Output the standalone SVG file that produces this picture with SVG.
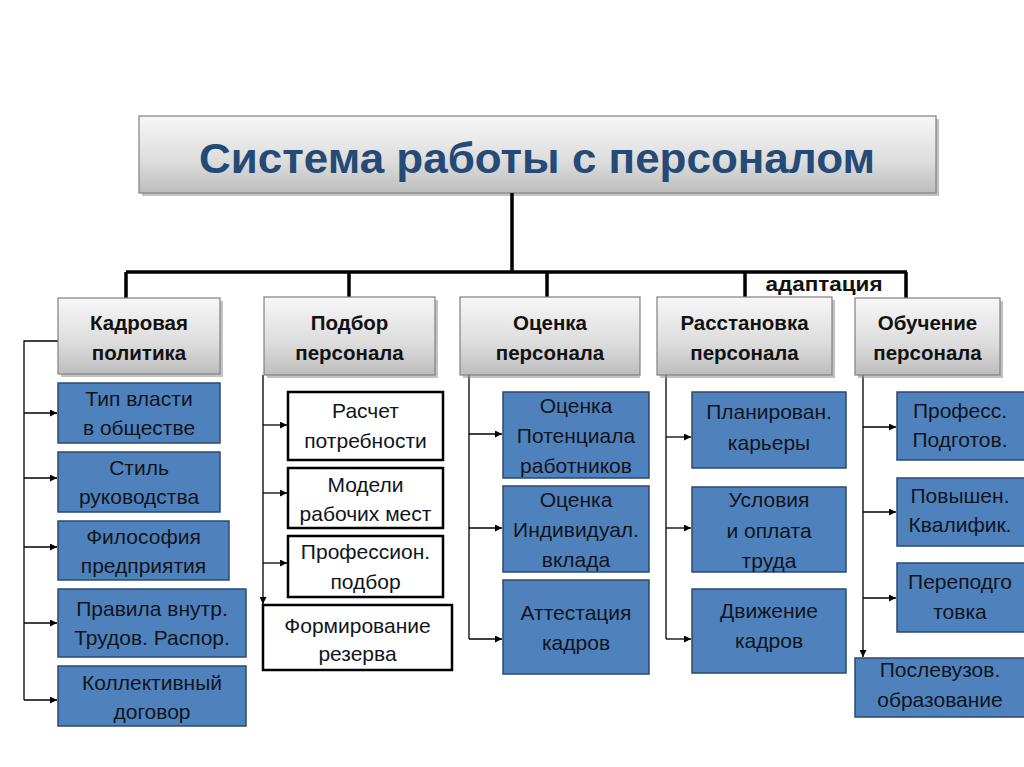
<svg xmlns="http://www.w3.org/2000/svg" width="1024" height="767" viewBox="0 0 1024 767">
<defs>
<linearGradient id="gray" x1="0" y1="0" x2="0" y2="1">
<stop offset="0" stop-color="#f7f7f7"/>
<stop offset="0.6" stop-color="#dcdcdc"/>
<stop offset="1" stop-color="#bdbdbd"/>
</linearGradient>
<marker id="ar" viewBox="0 0 10 10" refX="10" refY="5" markerWidth="7" markerHeight="7" markerUnits="userSpaceOnUse" orient="auto">
<path d="M0,0 L10,5 L0,10 z" fill="#000"/>
</marker>
</defs>
<style>
.hdr{fill:url(#gray);stroke:#808080;stroke-width:1.2}
.shd{fill:#9a9a9a;opacity:0.6}
.blue{fill:#4f81bd;stroke:#2a4a70;stroke-width:1.5}
.white{fill:#fff;stroke:#000;stroke-width:2.5}
.ht{font-family:"Liberation Sans",Arial,sans-serif;font-weight:bold;font-size:20.5px;fill:#111;text-anchor:middle}
.bt{font-family:"Liberation Sans",Arial,sans-serif;font-size:21px;fill:#10151c;text-anchor:middle}
.thick{stroke:#000;stroke-width:3.5;fill:none}
.thin{stroke:#000;stroke-width:1.3;fill:none}
.arr{stroke:#000;stroke-width:1.3;fill:none;marker-end:url(#ar)}
</style>
<rect width="1024" height="767" fill="#fff"/>

<g id="title">
<rect class="shd" x="142" y="119" width="797" height="77"/>
<rect class="hdr" x="139" y="116" width="797" height="77"/>
<text x="537" y="173" font-family="'Liberation Sans',Arial,sans-serif" font-weight="bold" font-size="42" fill="#244a75" text-anchor="middle" textLength="676" lengthAdjust="spacingAndGlyphs">Система работы с персоналом</text>
</g>

<g id="connectors">
<path class="thick" d="M512,193 V272 M126,272 H907 M126,272 V298 M349,272 V297 M547,272 V297 M745,272 V297 M906,272 V298"/>
<path class="thin" d="M58,341 H24 V700"/>
<path class="arr" d="M24,413 H57"/>
<path class="arr" d="M24,478 H57"/>
<path class="arr" d="M24,547 H57"/>
<path class="arr" d="M24,623 H57"/>
<path class="arr" d="M24,700 H57"/>
<path class="arr" d="M263,375 V604"/>
<path class="arr" d="M263,425 H287"/>
<path class="arr" d="M263,493 H287"/>
<path class="arr" d="M263,563 H287"/>
<path class="thin" d="M469,375 V639"/>
<path class="arr" d="M469,434 H502"/>
<path class="arr" d="M469,528 H502"/>
<path class="arr" d="M469,639 H502"/>
<path class="thin" d="M666,375 V639"/>
<path class="arr" d="M666,437 H691"/>
<path class="arr" d="M666,528 H691"/>
<path class="arr" d="M666,639 H691"/>
<path class="arr" d="M863,375 V657"/>
<path class="arr" d="M863,427 H896"/>
<path class="arr" d="M863,512 H896"/>
<path class="arr" d="M863,598 H896"/>
</g>

<text x="824" y="291" font-family="'Liberation Sans',Arial,sans-serif" font-weight="bold" font-size="21" fill="#111" text-anchor="middle" textLength="117" lengthAdjust="spacingAndGlyphs">адаптация</text>

<g id="kadr">
<rect class="shd" x="61" y="301" width="162" height="76"/>
<rect class="hdr" x="58" y="298" width="162" height="76"/>
<text class="ht" x="139" y="330">Кадровая</text>
<text class="ht" x="139" y="360">политика</text>
</g>
<g id="kadr1"><rect class="blue" x="58" y="383" width="162" height="60"/><text class="bt" x="139" y="406">Тип власти</text><text class="bt" x="139" y="435">в обществе</text></g>
<g id="kadr2"><rect class="blue" x="58" y="452" width="162" height="60"/><text class="bt" x="139" y="475">Стиль</text><text class="bt" x="139" y="504">руководства</text></g>
<g id="kadr3"><rect class="blue" x="58" y="521" width="171" height="59"/><text class="bt" x="143.5" y="544">Философия</text><text class="bt" x="143.5" y="573">предприятия</text></g>
<g id="kadr4"><rect class="blue" x="58" y="589" width="188" height="68"/><text class="bt" x="152" y="616">Правила внутр.</text><text class="bt" x="152" y="645">Трудов. Распор.</text></g>
<g id="kadr5"><rect class="blue" x="58" y="666" width="188" height="60"/><text class="bt" x="152" y="690">Коллективный</text><text class="bt" x="152" y="719">договор</text></g>

<g id="podbor">
<rect class="shd" x="267" y="300" width="171" height="78"/>
<rect class="hdr" x="264" y="297" width="171" height="78"/>
<text class="ht" x="349.5" y="330">Подбор</text>
<text class="ht" x="349.5" y="360">персонала</text>
</g>
<g id="podbor1"><rect class="white" x="288" y="392" width="155" height="68"/><text class="bt" x="365.5" y="418">Расчет</text><text class="bt" x="365.5" y="448">потребности</text></g>
<g id="podbor2"><rect class="white" x="288" y="468" width="155" height="60"/><text class="bt" x="365.5" y="492">Модели</text><text class="bt" x="365.5" y="521">рабочих мест</text></g>
<g id="podbor3"><rect class="white" x="288" y="536" width="155" height="61"/><text class="bt" x="365.5" y="559">Профессион.</text><text class="bt" x="365.5" y="589">подбор</text></g>
<g id="podbor4"><rect class="white" x="263" y="605" width="189" height="65"/><text class="bt" x="357.5" y="633">Формирование</text><text class="bt" x="357.5" y="661">резерва</text></g>

<g id="ocenka">
<rect class="shd" x="463" y="300" width="177" height="78"/>
<rect class="hdr" x="460" y="297" width="180" height="78"/>
<text class="ht" x="550" y="330">Оценка</text>
<text class="ht" x="550" y="360">персонала</text>
</g>
<g id="ocenka1"><rect class="blue" x="503" y="392" width="146" height="86"/><text class="bt" x="576" y="413">Оценка</text><text class="bt" x="576" y="443">Потенциала</text><text class="bt" x="576" y="473">работников</text></g>
<g id="ocenka2"><rect class="blue" x="503" y="486" width="146" height="86"/><text class="bt" x="576" y="507">Оценка</text><text class="bt" x="576" y="537">Индивидуал.</text><text class="bt" x="576" y="567">вклада</text></g>
<g id="ocenka3"><rect class="blue" x="503" y="580" width="146" height="94"/><text class="bt" x="576" y="620">Аттестация</text><text class="bt" x="576" y="650">кадров</text></g>

<g id="rasst">
<rect class="shd" x="660" y="300" width="175" height="78"/>
<rect class="hdr" x="657" y="297" width="175" height="78"/>
<text class="ht" x="744.5" y="330">Расстановка</text>
<text class="ht" x="744.5" y="360">персонала</text>
</g>
<g id="rasst1"><rect class="blue" x="692" y="392" width="154" height="76"/><text class="bt" x="769" y="419">Планирован.</text><text class="bt" x="769" y="450">карьеры</text></g>
<g id="rasst2"><rect class="blue" x="692" y="487" width="154" height="85"/><text class="bt" x="769" y="507">Условия</text><text class="bt" x="769" y="538">и оплата</text><text class="bt" x="769" y="568">труда</text></g>
<g id="rasst3"><rect class="blue" x="692" y="589" width="154" height="84"/><text class="bt" x="769" y="618">Движение</text><text class="bt" x="769" y="648">кадров</text></g>

<g id="obuch">
<rect class="shd" x="858" y="301" width="145" height="77"/>
<rect class="hdr" x="855" y="298" width="145" height="77"/>
<text class="ht" x="927.5" y="330">Обучение</text>
<text class="ht" x="927.5" y="360">персонала</text>
</g>
<g id="obuch1"><rect class="blue" x="897" y="392" width="130" height="68"/><text class="bt" x="960" y="418">Професс.</text><text class="bt" x="960" y="447">Подготов.</text></g>
<g id="obuch2"><rect class="blue" x="897" y="478" width="130" height="68"/><text class="bt" x="960" y="503">Повышен.</text><text class="bt" x="960" y="532">Квалифик.</text></g>
<g id="obuch3"><rect class="blue" x="897" y="563" width="130" height="69"/><text class="bt" x="960" y="589">Переподго</text><text class="bt" x="960" y="619">товка</text></g>
<g id="obuch4"><rect class="blue" x="855" y="658" width="170" height="59"/><text class="bt" x="940" y="677">Послевузов.</text><text class="bt" x="940" y="707">образование</text></g>
</svg>
